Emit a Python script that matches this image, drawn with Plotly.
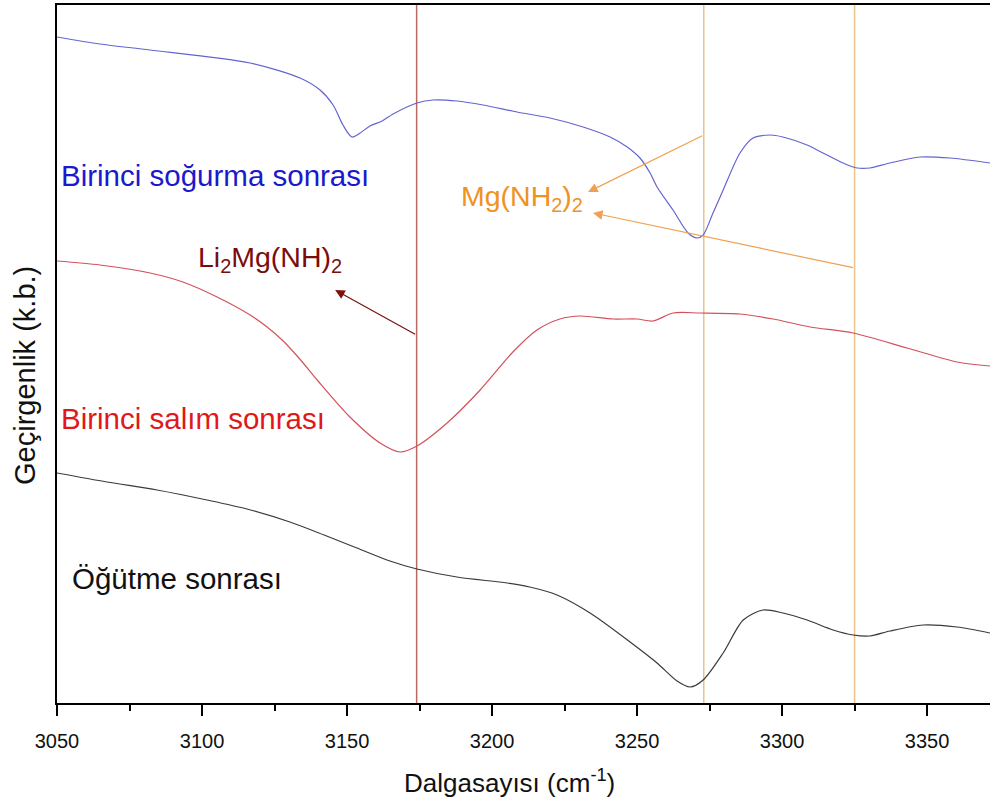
import plotly.graph_objects as go

# ---- data (wavenumber, transmittance in arbitrary units) ----
blue_x = [3050.0, 3064.8, 3082.1, 3116.6, 3133.8, 3140.7, 3145.2, 3148.6, 3151.7, 3154.5, 3157.9,
          3162.1, 3165.9, 3174.1, 3179.7, 3187.9, 3196.9, 3208.6, 3220.0, 3231.4, 3240.7, 3246.6,
          3251.0, 3254.5, 3256.9, 3262.4, 3267.6, 3270.7, 3272.8, 3276.2, 3279.7, 3285.5,
          3290.0, 3295.9, 3300.3, 3308.6, 3314.1, 3321.0, 3325.9, 3330.3, 3337.2, 3347.6, 3357.9, 3371.7]
blue_y = [666, 659, 653, 640, 625, 613, 598, 578, 566, 570, 577,
          582, 589, 600, 603, 602, 598, 591, 585, 576, 566, 556,
          545, 530, 516, 493, 470, 465, 468, 490, 513, 550,
          565, 568, 566, 558, 550, 540, 535, 535, 540, 546, 545, 540]

red_x = [3050.0, 3064.8, 3082.1, 3093.4, 3105.2, 3116.6, 3122.0, 3128.0, 3134.0, 3140.0, 3151.0, 3161.4, 3168.3,
         3174.1, 3184.5, 3195.9, 3207.2, 3215.5, 3223.4, 3230.3, 3241.7, 3250.0,
         3255.5, 3262.4, 3271.7, 3285.5, 3296.9, 3309.7, 3324.5, 3343.1, 3360.3, 3371.7]
red_y = [442, 438, 430, 421, 406, 388, 377, 362, 343, 322, 286, 260, 251,
         257, 280, 313, 351, 373, 384, 387, 384, 384,
         382, 390, 390, 389, 384, 376, 370, 355, 341, 337]

black_x = [3050.0, 3067.2, 3084.5, 3101.7, 3115.5, 3130.3, 3142.1, 3153.4, 3164.8, 3174.1, 3187.9,
           3205.2, 3213.0, 3222.4, 3233.8, 3247.6, 3256.9, 3263.8, 3268.3, 3272.8, 3279.7, 3286.6,
           3293.4, 3300.3, 3308.6, 3317.6, 3324.5, 3330.3, 3337.2, 3348.6, 3360.3, 3371.7]
black_y = [230, 221, 213, 203, 194, 181, 168, 155, 142, 134, 126,
           120, 116, 108, 90, 61, 40, 22, 16, 23, 50, 83,
           93, 90, 83, 73, 68, 67, 72, 78, 76, 70]

vline_li = [3174]
vline_mg = [3273, 3325]
tick_vals = [3050, 3100, 3150, 3200, 3250, 3300, 3350]

fig = go.Figure()
fig.add_trace(go.Scatter(x=black_x, y=black_y, mode="lines", line=dict(color="#3a3a3a", width=1.2, shape="spline", smoothing=0.8), showlegend=False))
fig.add_trace(go.Scatter(x=red_x, y=red_y, mode="lines", line=dict(color="#d4505a", width=1.2, shape="spline", smoothing=0.8), showlegend=False))
fig.add_trace(go.Scatter(x=blue_x, y=blue_y, mode="lines", line=dict(color="#6464d0", width=1.2, shape="spline", smoothing=0.8), showlegend=False))

for v in vline_li:
    fig.add_shape(type="line", x0=v, x1=v, y0=0, y1=1, xref="x", yref="paper", layer="below",
                  line=dict(color="#b86a62", width=1.5))
for v in vline_mg:
    fig.add_shape(type="line", x0=v, x1=v, y0=0, y1=1, xref="x", yref="paper", layer="below",
                  line=dict(color="#e8c488", width=1.5))

FONT = "Liberation Sans, Arial, sans-serif"

def label(text, x, y, color, size=29.5):
    fig.add_annotation(x=x, y=y, xref="x", yref="y", text=text, showarrow=False,
                       xanchor="left", yanchor="middle", font=dict(family=FONT, size=size, color=color))

label("Birinci soğurma sonrası", 3050.6, 528, "#1a1acc")
label("Birinci salım sonrası", 3050.6, 285, "#e01818")
label("Öğütme sonrası", 3054.6, 125, "#111111")
label("Li<sub>2</sub>Mg(NH)<sub>2</sub>", 3097.8, 444, "#7a0c0c", 28.5)
label("Mg(NH<sub>2</sub>)<sub>2</sub>", 3188.5, 505, "#f0921e", 28.5)

# arrows
def arrow(x_head, y_head, x_tail, y_tail, color):
    fig.add_annotation(x=x_head, y=y_head, ax=x_tail, ay=y_tail, xref="x", yref="y", axref="x", ayref="y",
                       text="", showarrow=True, arrowhead=2, arrowsize=1.6, arrowwidth=1.2, arrowcolor=color)

arrow(3145.9, 413, 3174, 368, "#7a1010")
arrow(3233.1, 511, 3273, 568, "#f0a050")
arrow(3234.8, 490, 3325, 435, "#f0a050")

# axis titles
fig.add_annotation(x=0.4855, y=-0.113, xref="paper", yref="paper", showarrow=False,
                   xanchor="center", yanchor="middle",
                   text="Dalgasayısı (cm<sup>-1</sup>)", font=dict(family=FONT, size=26, color="#111"))
fig.add_annotation(x=-0.0343, y=0.47, xref="paper", yref="paper", showarrow=False, textangle=-90,
                   xanchor="center", yanchor="middle",
                   text="Geçirgenlik (k.b.)", font=dict(family=FONT, size=29, color="#111"))

fig.update_layout(
    width=990, height=807,
    margin=dict(l=57, r=0, t=5, b=104),
    paper_bgcolor="white", plot_bgcolor="white",
    xaxis=dict(range=[3050, 3371.7], showgrid=False, zeroline=False,
               showline=True, linecolor="#000", linewidth=2, mirror=True,
               ticks="outside", ticklen=11, tickwidth=1.5, tickcolor="#000",
               ticklabelstandoff=8,
               tickvals=tick_vals, tickfont=dict(family=FONT, size=20, color="#111"),
               minor=dict(ticks="outside", ticklen=6, tickwidth=1.5, tickcolor="#000", dtick=25, tick0=3050)),
    yaxis=dict(range=[0, 698], showgrid=False, zeroline=False, showticklabels=False,
               showline=True, linecolor="#000", linewidth=2, ticks=""),
)

fig.write_html("out.html")
